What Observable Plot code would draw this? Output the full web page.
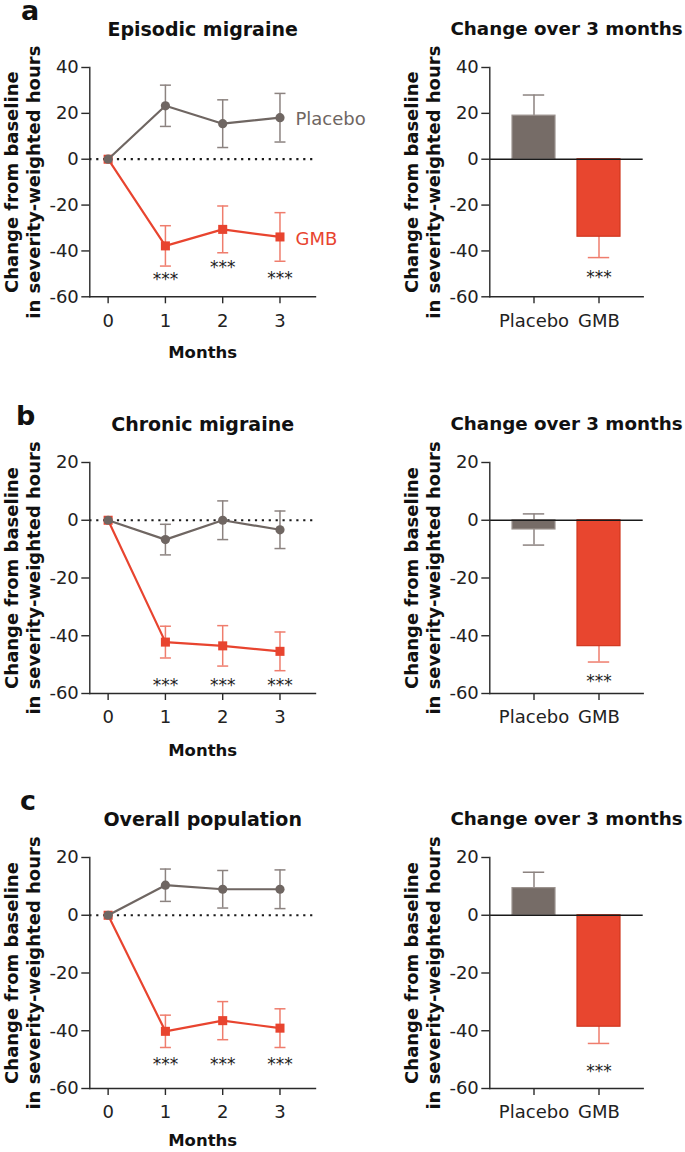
<!DOCTYPE html>
<html>
<head>
<meta charset="utf-8">
<script src="https://cdn.jsdelivr.net/npm/d3@7"></script>
<script src="https://cdn.jsdelivr.net/npm/@observablehq/plot@0.6"></script>
<style>
  html, body { margin: 0; padding: 0; background: #fff; }
  #fig { position: relative; width: 685px; height: 1152px; overflow: hidden; background: #fff; font-family: "DejaVu Sans", sans-serif; }
  .panel { position: absolute; }
  .panel svg { display: block; max-width: none; }
  .letter { position: absolute; font: bold 27px "DejaVu Sans", sans-serif; line-height: 0.8; color: #111; }
</style>
</head>
<body>
<div id="fig"></div>
<script>
// ---------- data ----------
const months = [0, 1, 2, 3];
const groups = ["Placebo", "GMB"];
const panelLetters = ["a", "b", "c"];
const panelTitles = ["Episodic migraine", "Chronic migraine", "Overall population"];
const barTitle = "Change over 3 months";
const yLabel = "Change from baseline\nin severity-weighted hours";
const xLabel = "Months";
const lineStars = ["", "***", "***", "***"];
const barStars = ["", "***"];

// a: Episodic migraine
const episodicPlacebo = [0, 23.3, 15.5, 18.1];
const episodicPlaceboSem = [0, 9.0, 10.4, 10.6];
const episodicGMB = [0, -37.8, -30.6, -33.9];
const episodicGMBSem = [0, 8.8, 10.2, 10.6];
const episodicStarY = [null, -50.9, -45.5, -50.3];
const episodicBar = [19.0, -33.8];
const episodicBarSem = [9.0, 9.1];
const episodicBarStarY = [null, -49.7];
const episodicYTicks = [-60, -40, -20, 0, 20, 40];

// b: Chronic migraine
const chronicPlacebo = [0, -6.7, 0.0, -3.3];
const chronicPlaceboSem = [0, 5.3, 6.7, 6.5];
const chronicGMB = [0, -42.2, -43.5, -45.4];
const chronicGMBSem = [0, 5.5, 7.0, 6.7];
const chronicStarY = [null, -55.7, -55.7, -55.7];
const chronicBar = [-3.2, -43.6];
const chronicBarSem = [5.4, 5.5];
const chronicBarStarY = [null, -54.5];
const chronicYTicks = [-60, -40, -20, 0, 20];

// c: Overall population
const overallPlacebo = [0, 10.4, 9.0, 9.0];
const overallPlaceboSem = [0, 5.6, 6.5, 6.7];
const overallGMB = [0, -40.2, -36.5, -39.1];
const overallGMBSem = [0, 5.6, 6.6, 6.7];
const overallStarY = [null, -50.2, -50.2, -50.2];
const overallBar = [9.4, -38.6];
const overallBarSem = [5.5, 5.8];
const overallBarStarY = [null, -52.6];
const overallYTicks = [-60, -40, -20, 0, 20];

// ---------- styles ----------
const seriesStyle = {
  Placebo: {line: "#6f6662", err: "#8c8380", symbol: "circle", r: 4.6, bar: "#766c67", barStroke: "#9c938f"},
  GMB: {line: "#e8442f", err: "#ef7d6d", symbol: "square", r: 5.1, bar: "#e8462f", barStroke: "#d0371f"}
};
const axisColor = "#2a2a2a";
const capSymbol = {
  draw(context, size) {
    const w = Math.sqrt(size / Math.PI);
    context.moveTo(-w, 0);
    context.lineTo(w, 0);
  }
};

const rows = [
  {letter: 0, title: 0, frameTop: 66.7, frameH: 229.3, ticks: episodicYTicks, labels: true, monthsDy: 56,
   values: [episodicPlacebo, episodicGMB], sems: [episodicPlaceboSem, episodicGMBSem], starY: episodicStarY,
   bar: episodicBar, barSem: episodicBarSem, barStarY: episodicBarStarY, letterTop: 0, letterLeft: 21},
  {letter: 1, title: 1, frameTop: 461.7, frameH: 231, ticks: chronicYTicks, labels: false, monthsDy: 57,
   values: [chronicPlacebo, chronicGMB], sems: [chronicPlaceboSem, chronicGMBSem], starY: chronicStarY,
   bar: chronicBar, barSem: chronicBarSem, barStarY: chronicBarStarY, letterTop: 404.8, letterLeft: 16},
  {letter: 2, title: 2, frameTop: 857.3, frameH: 231, ticks: overallYTicks, labels: false, monthsDy: 52,
   values: [overallPlacebo, overallGMB], sems: [overallPlaceboSem, overallGMBSem], starY: overallStarY,
   bar: overallBar, barSem: overallBarSem, barStarY: overallBarStarY, letterTop: 790, letterLeft: 20}
];

const MT = 66, MB = 72;
const baseStyle = {fontFamily: "DejaVu Sans, sans-serif", fontSize: "18px", background: "transparent", overflow: "visible", color: "#222"};

function commonMarks(title, titleSize) {
  return [
    Plot.frame({anchor: "left", stroke: axisColor, strokeWidth: 1.4}),
    Plot.frame({anchor: "bottom", stroke: axisColor, strokeWidth: 1.4}),
    Plot.text([title], {text: d => d, frameAnchor: "top", dy: -38, lineAnchor: "middle", textAnchor: "middle",
      fontSize: titleSize, fontWeight: "bold", fill: "#111"}),
    Plot.text([yLabel], {text: d => d, frameAnchor: "left", rotate: -90, dx: -68, textAnchor: "middle", lineAnchor: "middle",
      fontSize: 18, fontWeight: "bold", lineHeight: 1.22, fill: "#111"})
  ];
}

function linePanel(p) {
  const data = [];
  groups.forEach((g, gi) => months.forEach((m, i) => data.push({group: g, month: m, value: p.values[gi][i], sem: p.sems[gi][i]})));
  const stars = months.map((m, i) => ({month: m, y: p.starY[i], label: lineStars[i]})).filter(d => d.label);
  const marks = [Plot.ruleY([0], {stroke: "#1a1a1a", strokeWidth: 2.2, strokeDasharray: "2.2,4.7"})];
  for (const g of ["GMB", "Placebo"]) {
    const s = seriesStyle[g];
    const er = data.filter(d => d.group === g && d.sem > 0);
    const caps = er.flatMap(d => [{month: d.month, y: d.value - d.sem}, {month: d.month, y: d.value + d.sem}]);
    marks.push(
      Plot.ruleX(er, {x: "month", y1: d => d.value - d.sem, y2: d => d.value + d.sem, stroke: s.err, strokeWidth: 1.5}),
      Plot.dot(caps, {x: "month", y: "y", symbol: capSymbol, r: 5.5, stroke: s.err, strokeWidth: 1.5, fill: "none"})
    );
  }
  for (const g of ["GMB", "Placebo"]) {
    const s = seriesStyle[g];
    const gr = data.filter(d => d.group === g);
    marks.push(
      Plot.line(gr, {x: "month", y: "value", stroke: s.line, strokeWidth: 2.2}),
      Plot.dot(gr, {x: "month", y: "value", symbol: s.symbol, r: s.r, fill: s.line, stroke: "none"})
    );
    if (p.labels) marks.push(Plot.text(gr.slice(-1), {x: "month", y: "value", text: "group", dx: 15.5, dy: 2,
      textAnchor: "start", fill: s.line, fontSize: 18}));
  }
  marks.push(
    Plot.text(stars, {x: "month", y: "y", text: "label", fontSize: 17, dy: 4, fill: "#222"}),
    Plot.axisY({ticks: p.ticks, tickSize: 8, tickPadding: 3, tickFormat: d => String(d), label: null,
      stroke: axisColor, strokeWidth: 1.4, fill: "#222"}),
    Plot.axisX({ticks: months, tickSize: 7, tickPadding: 10, tickFormat: d => String(d), label: null,
      stroke: axisColor, strokeWidth: 1.4, fill: "#222"}),
    ...commonMarks(panelTitles[p.title], 19),
    Plot.text([xLabel], {text: d => d, frameAnchor: "bottom", dy: p.monthsDy, lineAnchor: "middle", fontSize: 16.5, fontWeight: "bold", fill: "#111"})
  );
  return Plot.plot({
    width: 340, height: MT + p.frameH + MB,
    marginLeft: 89.3, marginRight: 25, marginTop: MT, marginBottom: MB,
    style: baseStyle,
    x: {type: "linear", domain: [-0.32, 3.62]},
    y: {domain: [p.ticks[0], p.ticks[p.ticks.length - 1]]},
    marks
  });
}

function barPanel(p) {
  const data = groups.map((g, i) => ({group: g, value: p.bar[i], sem: p.barSem[i], star: barStars[i], starY: p.barStarY[i]}));
  const marks = [];
  for (const g of groups) {
    const s = seriesStyle[g];
    const d = data.filter(r => r.group === g);
    const caps = d.flatMap(r => [{group: r.group, y: r.value - r.sem}, {group: r.group, y: r.value + r.sem}]);
    marks.push(
      Plot.ruleX(d, {x: "group", y1: r => r.value - r.sem, y2: r => r.value + r.sem, stroke: s.err, strokeWidth: 1.5}),
      Plot.tickY(caps, {x: "group", y: "y", stroke: s.err, strokeWidth: 1.5, insetLeft: 10.8, insetRight: 10.8})
    );
  }
  for (const g of groups) {
    const s = seriesStyle[g];
    marks.push(Plot.rectY(data.filter(r => r.group === g), {x: "group", y1: 0, y2: "value", fill: s.bar, stroke: s.barStroke, strokeWidth: 1.2}));
  }
  marks.push(
    Plot.ruleY([0], {stroke: "#1a1a1a", strokeWidth: 1.4}),
    Plot.text(data.filter(r => r.star), {x: "group", y: "starY", text: "star", fontSize: 17, dy: 4, fill: "#222"}),
    Plot.axisY({ticks: p.ticks, tickSize: 8, tickPadding: 3, tickFormat: d => String(d), label: null,
      stroke: axisColor, strokeWidth: 1.4, fill: "#222"}),
    Plot.axisX({tickSize: 7, tickPadding: 10, label: null, stroke: axisColor, strokeWidth: 1.4, fill: "#222"}),
    ...commonMarks(barTitle, 18.3)
  );
  return Plot.plot({
    width: 345, height: MT + p.frameH + MB,
    marginLeft: 149.3, marginRight: 42.3, marginTop: MT, marginBottom: MB,
    style: baseStyle,
    x: {type: "band", domain: groups, paddingInner: 0.34, paddingOuter: 0.34},
    y: {domain: [p.ticks[0], p.ticks[p.ticks.length - 1]]},
    marks
  });
}

const fig = document.getElementById("fig");
for (const p of rows) {
  const top = p.frameTop - MT;
  const left = document.createElement("div");
  left.className = "panel";
  left.style.cssText = `left:0px;top:${top}px;width:340px;`;
  left.appendChild(linePanel(p));
  fig.appendChild(left);
  const right = document.createElement("div");
  right.className = "panel";
  right.style.cssText = `left:340px;top:${top}px;width:345px;`;
  right.appendChild(barPanel(p));
  fig.appendChild(right);
  const letter = document.createElement("div");
  letter.className = "letter";
  letter.style.cssText = `left:${p.letterLeft}px;top:${p.letterTop}px;`;
  letter.textContent = panelLetters[p.letter];
  fig.appendChild(letter);
}
</script>
</body>
</html>
